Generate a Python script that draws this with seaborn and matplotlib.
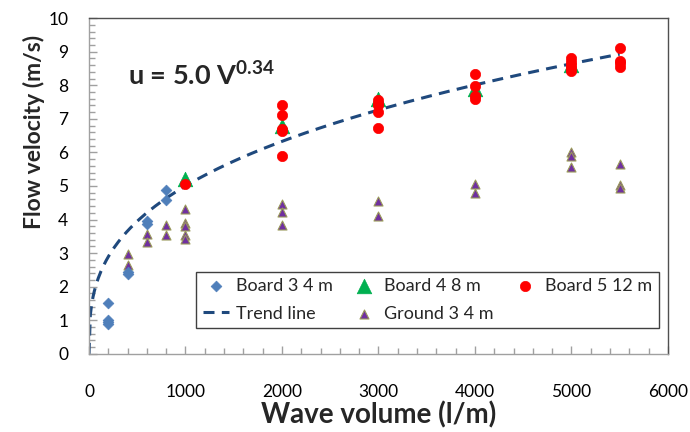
import numpy as np
import pandas as pd
import matplotlib
matplotlib.use("Agg")
import matplotlib.pyplot as plt
from matplotlib.ticker import MultipleLocator
import seaborn as sns

# Board 3, 4 m
board3_x = [200, 200, 200, 200, 400, 400, 600, 600, 800, 800]
board3_y = [1.50, 1.00, 0.95, 0.89, 2.45, 2.38, 3.95, 3.88, 4.88, 4.58]

# Board 4, 8 m
board4_x = [1000, 2000, 3000, 4000, 5000]
board4_y = [5.22, 6.78, 7.58, 7.90, 8.60]

# Board 5, 12 m
board5_x = [1000,
            2000, 2000, 2000, 2000, 2000,
            3000, 3000, 3000, 3000, 3000,
            4000, 4000, 4000, 4000,
            5000, 5000, 5000, 5000, 5000,
            5500, 5500, 5500, 5500]
board5_y = [5.05,
            7.40, 7.12, 6.70, 6.65, 5.88,
            7.55, 7.45, 7.40, 7.20, 6.72,
            8.33, 7.98, 7.68, 7.58,
            8.80, 8.70, 8.60, 8.50, 8.42,
            9.12, 8.72, 8.65, 8.55]

# Ground 3, 4 m
ground_x = [400, 400, 600, 600, 800, 800,
            1000, 1000, 1000, 1000, 1000,
            2000, 2000, 2000, 3000, 3000,
            4000, 4000, 5000, 5000, 5000,
            5500, 5500, 5500]
ground_y = [2.97, 2.65, 3.58, 3.33, 3.85, 3.55,
            4.30, 3.90, 3.82, 3.55, 3.42,
            4.45, 4.22, 3.85, 4.55, 4.12,
            5.05, 4.80, 6.02, 5.88, 5.58,
            5.65, 5.02, 4.95]

# trend line u = A * V^B  (V in m3/m)
trend_a = 5.0
trend_b = 0.34
trend_x = np.linspace(0, 5500, 400)
trend_y = trend_a * (trend_x / 1000.0) ** trend_b

sns.set_style("ticks")
plt.rcParams["font.family"] = ["Lato", "DejaVu Sans"]
plt.rcParams["mathtext.fontset"] = "custom"
plt.rcParams["mathtext.rm"] = "Lato"
plt.rcParams["mathtext.bf"] = "Lato:bold"

fig, ax = plt.subplots(figsize=(6.9, 4.32), dpi=100)
fig.subplots_adjust(left=0.129, right=0.968, bottom=0.181, top=0.958)

df_b3 = pd.DataFrame({"x": board3_x, "y": board3_y})
df_b4 = pd.DataFrame({"x": board4_x, "y": board4_y})
df_b5 = pd.DataFrame({"x": board5_x, "y": board5_y})
df_g = pd.DataFrame({"x": ground_x, "y": ground_y})
df_t = pd.DataFrame({"x": trend_x, "y": trend_y})

sns.lineplot(data=df_t, x="x", y="y", ax=ax, color="#1F497D", lw=2.2,
             linestyle=(0, (3.6, 2.4)), label="Trend line", zorder=2)
sns.scatterplot(data=df_g, x="x", y="y", ax=ax, marker="^", s=42,
                color="#7030A0", edgecolor="#9A9A5A", linewidth=0.8,
                label="Ground 3 4 m", zorder=3)
sns.scatterplot(data=df_b3, x="x", y="y", ax=ax, marker="D", s=30,
                color="#4F7FBA", edgecolor="#4F7FBA", linewidth=0.5,
                label="Board 3 4 m", zorder=4)
sns.scatterplot(data=df_b4, x="x", y="y", ax=ax, marker="^", s=110,
                color="#00B050", edgecolor="#00B050", linewidth=0.5,
                label="Board 4 8 m", zorder=4)
sns.scatterplot(data=df_b5, x="x", y="y", ax=ax, marker="o", s=55,
                color="#FF0000", edgecolor="#FF0000", linewidth=0.5,
                label="Board 5 12 m", zorder=5)

ax.set_xlim(0, 6000)
ax.set_ylim(0, 10)
ax.xaxis.set_major_locator(MultipleLocator(1000))
ax.xaxis.set_minor_locator(MultipleLocator(200))
ax.yaxis.set_major_locator(MultipleLocator(1))
ax.yaxis.set_minor_locator(MultipleLocator(0.2))
ax.tick_params(which="both", direction="in", color="#A0A0A0", labelsize=12.5,
               labelcolor="black")
ax.tick_params(which="major", length=6, width=1)
ax.tick_params(which="minor", length=4, width=1)
ax.tick_params(axis="x", which="major", pad=22)
ax.tick_params(axis="y", which="major", pad=15)
for sp in ax.spines.values():
    sp.set_visible(True)
    sp.set_color("#505050")
    sp.set_linewidth(1)
ax.spines["left"].set_color("#A0A0A0")
ax.spines["bottom"].set_color("#A0A0A0")

ax.set_xlabel("Wave volume (l/m)", fontsize=20, fontweight="bold", labelpad=1)
ax.set_ylabel("Flow velocity (m/s)", fontsize=16.5, fontweight="bold")
ax.yaxis.set_label_coords(-0.076, 0.66)

ax.text(400, 8.0, r"u = 5.0 V$^{\mathbf{0.34}}$", fontsize=19.5, fontweight="bold")

h, l = ax.get_legend_handles_labels()
order = ["Board 3 4 m", "Trend line", "Board 4 8 m", "Ground 3 4 m", "Board 5 12 m"]
hm = dict(zip(l, h))
leg = ax.legend([hm[k] for k in order], order, ncol=3, loc="lower right",
                bbox_to_anchor=(0.984, 0.077), fontsize=13, frameon=True,
                fancybox=False, edgecolor="#404040", framealpha=1,
                handlelength=1.45, columnspacing=1.0, borderpad=0.35,
                labelspacing=0.65, handletextpad=0.4, borderaxespad=0)
leg.get_frame().set_linewidth(1)

fig.savefig("out.png", dpi=100)
plt.close(fig)
